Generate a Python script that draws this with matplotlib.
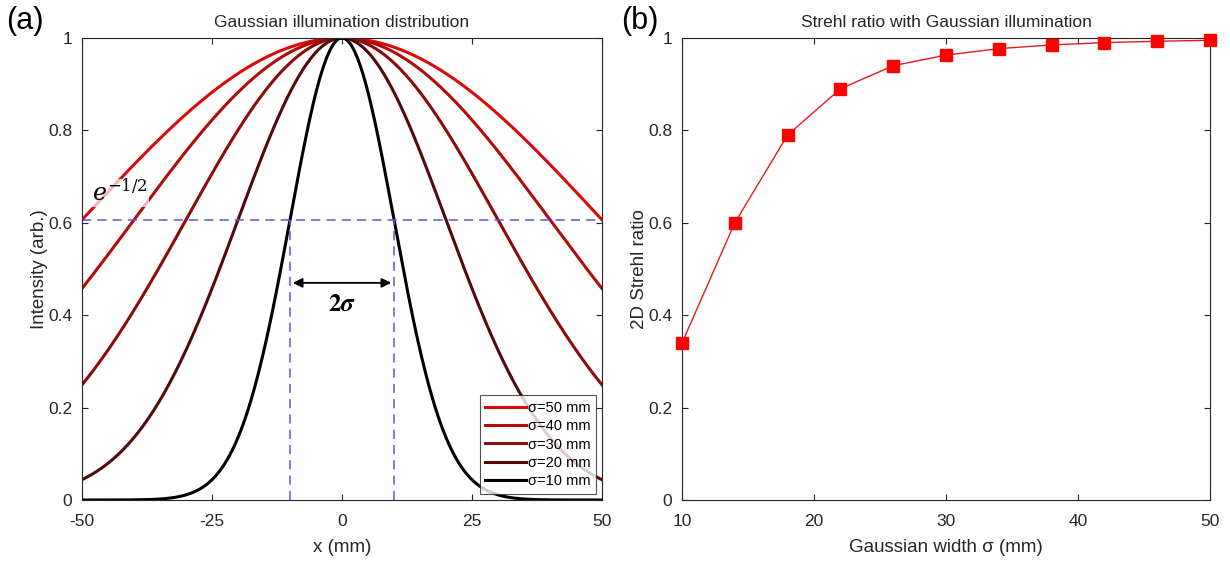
import numpy as np
import matplotlib
matplotlib.use("Agg")
import matplotlib.pyplot as plt

plt.rcParams['font.family'] = ['Liberation Sans', 'DejaVu Sans']
plt.rcParams['mathtext.fontset'] = 'stix'
plt.rcParams['axes.unicode_minus'] = False

# data
sigmas = [50, 40, 30, 20, 10]
sigma_colors = [(0.86, 0.04, 0.04), (0.70, 0.04, 0.04), (0.55, 0.04, 0.04),
                (0.33, 0.04, 0.04), (0.0, 0.0, 0.0)]
x_mm = np.linspace(-50, 50, 401)

strehl_width = [10, 14, 18, 22, 26, 30, 34, 38, 42, 46, 50]
strehl_ratio = [0.34, 0.60, 0.79, 0.89, 0.94, 0.963, 0.977, 0.985, 0.990, 0.993, 0.995]

level = np.exp(-0.5)
sigma_mark = 10

fig = plt.figure(figsize=(12.3, 5.63), dpi=100)
ax1 = fig.add_axes([0.0667, 0.1119, 0.4227, 0.8206])
ax2 = fig.add_axes([0.5545, 0.1119, 0.4292, 0.8206])

tc = (0.15, 0.15, 0.15)

# (a) Gaussian profiles
for s, c in zip(sigmas, sigma_colors):
    ax1.plot(x_mm, np.exp(-x_mm**2 / (2 * s**2)), color=c, lw=2.2, label=f"σ={s} mm")
ax1.axhline(level, color=(0.35, 0.35, 0.85), ls=(0, (6, 4)), lw=1.1)
for xv in (-sigma_mark, sigma_mark):
    ax1.plot([xv, xv], [0, level], color=(0.35, 0.35, 0.85), ls=(0, (6, 4)), lw=1.1)
ax1.annotate("", xy=(-sigma_mark, 0.47), xytext=(sigma_mark, 0.47),
             arrowprops=dict(arrowstyle="<|-|>", color="k", lw=1.3, mutation_scale=14))
ax1.text(0, 0.425, r"$\boldsymbol{2\sigma}$", ha="center", va="center", fontsize=18)
ax1.text(-48, 0.665, r"$e^{-1/2}$", ha="left", va="center", fontsize=17,
         math_fontfamily="dejavuserif", zorder=6,
         bbox=dict(facecolor="white", edgecolor="none", alpha=0.7, pad=0.5))
ax1.set_xlim(-50, 50)
ax1.set_ylim(0, 1)
ax1.set_xticks([-50, -25, 0, 25, 50])
ax1.set_yticks([0, 0.2, 0.4, 0.6, 0.8, 1])
ax1.set_yticklabels(["0", "0.2", "0.4", "0.6", "0.8", "1"])
ax1.set_xlabel("x (mm)", fontsize=13.5, color=tc, labelpad=7)
ax1.set_ylabel("Intensity (arb.)", fontsize=13.5, color=tc, labelpad=0)
ax1.set_title("Gaussian illumination distribution", fontsize=12.5, color=tc, pad=8)
leg = ax1.legend(loc="lower right", fontsize=10.5, frameon=True, fancybox=False,
                 handlelength=2.8, handletextpad=0.1, borderaxespad=0.4,
                 labelspacing=0.3, borderpad=0.4)
leg.get_frame().set_edgecolor(tc)
leg.get_frame().set_linewidth(0.8)

# (b) Strehl ratio
ax2.plot(strehl_width, strehl_ratio, color=(0.9, 0.1, 0.1), lw=1.0,
         marker="s", ms=9, mfc=(1, 0, 0), mec=(1, 0, 0), clip_on=False, zorder=5)
ax2.set_xlim(10, 50)
ax2.set_ylim(0, 1)
ax2.set_xticks([10, 20, 30, 40, 50])
ax2.set_yticks([0, 0.2, 0.4, 0.6, 0.8, 1])
ax2.set_yticklabels(["0", "0.2", "0.4", "0.6", "0.8", "1"])
ax2.set_xlabel("Gaussian width σ (mm)", fontsize=13.5, color=tc, labelpad=7)
ax2.set_ylabel("2D Strehl ratio", fontsize=13.5, color=tc, labelpad=0)
ax2.set_title("Strehl ratio with Gaussian illumination", fontsize=12.5, color=tc, pad=8)

for ax in (ax1, ax2):
    ax.tick_params(direction="in", labelsize=12.5, colors=tc, length=4, pad=7,
                   top=True, right=True)
    ax.tick_params(axis="x", pad=10)
    for sp in ax.spines.values():
        sp.set_color(tc)
        sp.set_linewidth(0.8)

fig.text(0.005, 0.99, "(a)", fontsize=22, ha="left", va="top")
fig.text(0.505, 0.99, "(b)", fontsize=22, ha="left", va="top")

fig.savefig("out.png", dpi=100)
